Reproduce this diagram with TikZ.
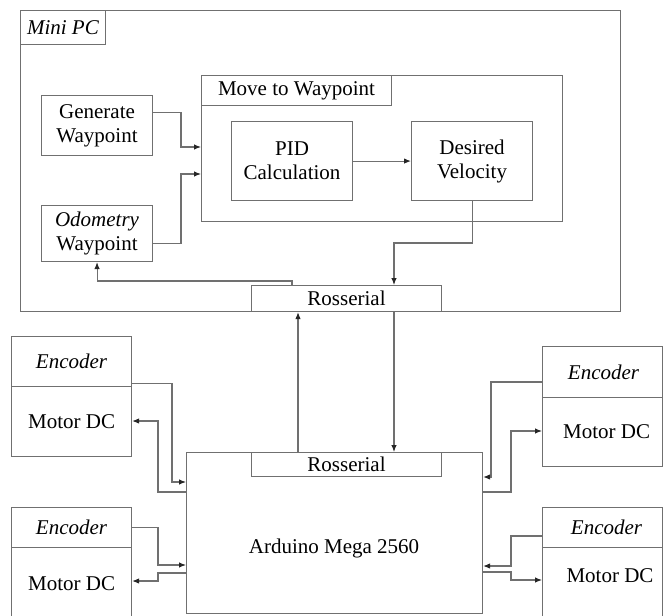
\documentclass[tikz,border=0pt]{standalone}
\usepackage{fontspec}
\setmainfont{Liberation Serif}
\usetikzlibrary{arrows.meta}
\definecolor{lc}{HTML}{707070}
\begin{document}
\begin{tikzpicture}[x=1pt,y=-1pt,
  box/.style={draw=lc, line width=1.1pt, inner sep=0pt, anchor=north west, align=center, font=\fontsize{21}{24}\selectfont},
  txt/.style={inner sep=0pt, font=\fontsize{21}{24}\selectfont},
  arr/.style={draw=lc, line width=1.1pt, -{Latex[length=7pt,width=5.5pt,color=black!85]}}]
\useasboundingbox (0,0) rectangle (663,615);
% Mini PC
\node[box,minimum width=600pt,minimum height=301pt] (minipc) at (20,10) {};
\node[box,minimum width=85pt,minimum height=34pt] (pclabel) at (20,10) {\textit{Mini PC}};
\node[box,minimum width=111pt,minimum height=60pt] (gen) at (41,95) {Generate\\Waypoint};
\node[box,minimum width=111pt,minimum height=56pt] (odo) at (41,205) {\textit{Odometry}\\Waypoint};
\node[box,minimum width=361pt,minimum height=146pt] (move) at (201,75) {};
\node[box,minimum width=190pt,minimum height=30pt] (movelabel) at (201,75) {Move to Waypoint};
\node[box,minimum width=121pt,minimum height=79pt] (pid) at (231,121) {PID\\Calculation};
\node[box,minimum width=121pt,minimum height=79pt] (des) at (411,121) {Desired\\Velocity};
\node[box,minimum width=190pt,minimum height=26pt] (rostop) at (251,285) {Rosserial};
% Arduino
\node[box,minimum width=296pt,minimum height=161pt] (ard) at (186,452) {};
\node[box,minimum width=190pt,minimum height=24pt] (rosbot) at (251,452) {Rosserial};
\node[txt] (ardtxt) at (334,548) {Arduino Mega 2560};
% Encoders / motors
\node[box,minimum width=120pt,minimum height=50pt] (encL1) at (11,336) {\textit{Encoder}};
\node[box,minimum width=120pt,minimum height=70pt] (motL1) at (11,386) {Motor DC};
\node[box,minimum width=120pt,minimum height=40pt] (encL2) at (11,507) {\textit{Encoder}};
\node[box,minimum width=120pt,minimum height=72pt] (motL2) at (11,547) {Motor DC};
\node[box,minimum width=120pt,minimum height=51pt] (encR1) at (542,346) {\hspace*{2pt}\textit{Encoder}};
\node[box,minimum width=120pt,minimum height=69pt] (motR1) at (542,397) {\hspace*{8pt}Motor DC};
\node[box,minimum width=120pt,minimum height=40pt] (encR2) at (542,507) {\hspace*{8pt}\textit{Encoder}};
\node[box,minimum width=120pt,minimum height=72pt] (motR2) at (542,547) {};
\node[txt] (motR2txt) at (610,576) {Motor DC};
% Mini PC connectors
\draw[arr] ([yshift=13pt]gen.east) -| (181,147) -- (move.west |- 0,147);
\draw[arr] ([yshift=-10pt]odo.east) -| (181,174) -- (move.west |- 0,174);
\draw[arr] (pid) -- (des);
\draw[arr] (des.south) |- (394,243) -- (rostop.north -| 394,0);
\draw[arr] ([xshift=41pt]rostop.north west) -- ++(0,-4) -| (odo.south);
\draw[arr] (rosbot.north -| 298,0) -- (rostop.south -| 298,0);
\draw[arr] (rostop.south -| 394,0) -- (rosbot.north -| 394,0);
% Left side
\draw[arr] ([yshift=4pt]encL1.south east) -| (172,482) -- (ard.west |- 0,482);
\draw[arr] (ard.west |- 0,492) -| (158,421) -- (motL1.east |- 0,421);
\draw[arr] (encL2.east) -| (158,565) -- (ard.west |- 0,565);
\draw[arr] (ard.west |- 0,573) -| (158,581) -- (motL2.east |- 0,581);
% Right side
\draw[arr] (encR1.west |- 0,382) -| (491,477) -- (ard.east |- 0,477);
\draw[arr] (ard.east |- 0,492) -| (511,431) -- (motR1.west |- 0,431);
\draw[arr] (encR2.west |- 0,536) -| (511,566) -- (ard.east |- 0,566);
\draw[arr] (ard.east |- 0,572) -| (511,580) -- (motR2.west |- 0,580);
\end{tikzpicture}
\end{document}
